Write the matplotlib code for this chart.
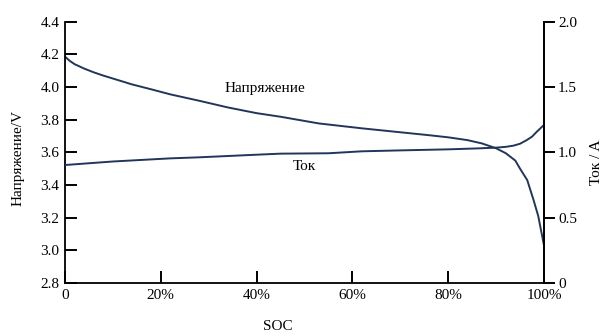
import numpy as np
import matplotlib
matplotlib.use('Agg')
import matplotlib.pyplot as plt

# values
soc_v = [0, 1, 2, 4, 6, 8, 11, 14, 18, 22, 28, 34, 40, 45, 53, 62, 70, 76, 80, 84, 87, 90, 92,
         94, 95, 96.5, 97.8, 98.8, 100]
voltage = [4.186, 4.16, 4.14, 4.113, 4.09, 4.07, 4.043, 4.016, 3.986, 3.955, 3.916, 3.875, 3.84,
           3.818, 3.777, 3.747, 3.723, 3.705, 3.692, 3.675, 3.655, 3.625, 3.595, 3.55, 3.50,
           3.43, 3.31, 3.21, 3.03]
soc_i = [0, 10, 22, 28, 40, 45, 55, 62, 70, 80, 86, 90, 92, 93.6, 95, 96.4, 97.5, 98.5, 100]
current = [0.903, 0.93, 0.954, 0.962, 0.982, 0.99, 0.993, 1.008, 1.015, 1.023, 1.03, 1.036, 1.042,
           1.051, 1.066, 1.094, 1.12, 1.158, 1.21]

x_ticks = [0, 20, 40, 60, 80, 100]
x_labels = ['0', '20%', '40%', '60%', '80%', '100%']
v_ticks = [2.8, 3.0, 3.2, 3.4, 3.6, 3.8, 4.0, 4.2, 4.4]
i_ticks = [0, 0.5, 1.0, 1.5, 2.0]
i_labels = ['0', '0.5', '1.0', '1.5', '2.0']

plt.rcParams['font.family'] = ['Liberation Serif', 'DejaVu Serif']
plt.rcParams['font.size'] = 11

line_col = '#22355a'

fig = plt.figure(figsize=(6.08, 3.36), dpi=100)
ax = fig.add_axes([65 / 608, 53 / 336, 479 / 608, 261.3 / 336])
ax2 = ax.twinx()

ax.plot(soc_v, voltage, color=line_col, lw=1.4)
ax2.plot(soc_i, current, color=line_col, lw=1.4)

ax.set_xlim(0, 100)
ax.set_ylim(2.8, 4.4)
ax2.set_ylim(0, 2.0)

ax.set_xticks(x_ticks)
ax.set_xticklabels(x_labels)
ax.set_yticks(v_ticks)
ax.set_yticklabels([f'{v:.1f}' for v in v_ticks])
ax2.set_yticks(i_ticks)
ax2.set_yticklabels(i_labels)

for a in (ax, ax2):
    a.spines['top'].set_visible(False)
    for s in a.spines.values():
        s.set_linewidth(1.3)
ax2.spines['left'].set_visible(False)
ax2.spines['bottom'].set_visible(False)

ax.tick_params(axis='both', direction='in', length=8.5, width=1.4, pad=4)
ax.tick_params(axis='y', right=False)
ax2.tick_params(axis='y', direction='out', length=8, width=1.4, pad=2)

ax.set_ylabel('Напряжение/V')
ax.yaxis.set_label_coords(-0.085, 0.478)
ax2.set_ylabel('Ток / A')
ax2.yaxis.set_label_coords(1.097, 0.463)
fig.text(278 / 608, 1 - 327 / 336, 'SOC', ha='center', va='center')

# curve labels
fig.text(265 / 608, 1 - 89 / 336, 'Напряжение', ha='center', va='center')
fig.text(304 / 608, 1 - 167 / 336, 'Ток', ha='center', va='center')

fig.savefig('out.png', dpi=100)
